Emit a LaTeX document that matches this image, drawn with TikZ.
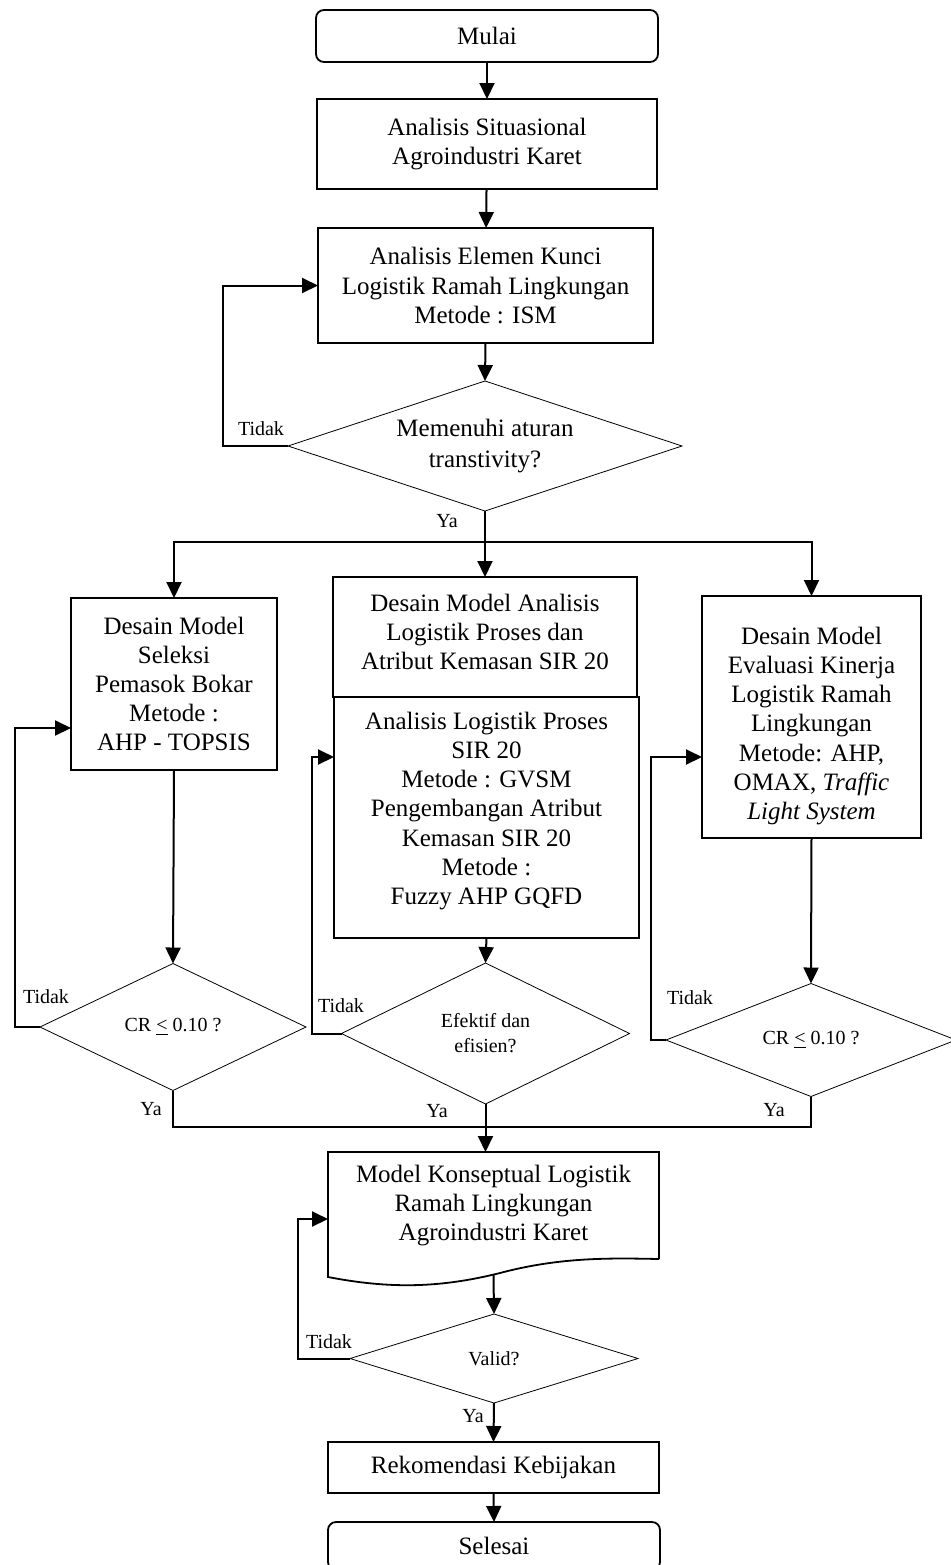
\documentclass[tikz,border=0pt]{standalone}
\usepackage{fontspec}
\setmainfont{Liberation Serif}
\usetikzlibrary{shapes.geometric,arrows.meta,calc}

\begin{document}
\begin{tikzpicture}[x=0.5pt,y=-0.5pt,
  box/.style={draw,line width=0.9pt,rectangle,align=center,inner sep=2pt,outer sep=0pt,
    font=\fontsize{12.5}{14.6}\selectfont},
  boxtext/.style={align=center,inner sep=0pt,font=\fontsize{12.5}{14.6}\selectfont},
  term/.style={box,rounded corners=4pt},
  dec/.style={draw,line width=0.4pt,diamond,align=center,inner sep=0pt,outer sep=0pt,
    font=\fontsize{10}{12.5}\selectfont},
  lbl/.style={inner sep=1pt,font=\fontsize{10}{12}\selectfont},
  conn/.style={line width=1pt,-{Triangle[length=8pt,width=7.5pt]}},
  joinline/.style={line width=1.3pt}
]
\useasboundingbox (0,0) rectangle (951,1565);

% main column
\node[term,minimum width=171pt,minimum height=26pt] (mulai) at (487,36) {Mulai};
\node[box,minimum width=170pt,minimum height=45pt] (sit) at (487,144)
  {Analisis Situasional\\Agroindustri Karet};
\node[box,minimum width=167.5pt,minimum height=57.5pt] (ism) at (485.5,285.5)
  {Analisis Elemen Kunci\\Logistik Ramah Lingkungan\\Metode : ISM};
\node[dec,shape aspect=3,minimum width=197pt,minimum height=65pt,
  font=\fontsize{12.5}{15.5}\selectfont] (trans) at (485,446)
  {Memenuhi aturan\\transtivity?};

% three design branches
\node[box,minimum width=103pt,minimum height=86pt] (sel) at (174,684)
  {Desain Model\\Seleksi\\Pemasok Bokar\\Metode :\\AHP - TOPSIS};
\node[box,minimum width=152pt,minimum height=60pt] (anl) at (485,637) {};
\node[boxtext] (anltext) at (485,632)
  {Desain Model Analisis\\Logistik Proses dan\\Atribut Kemasan SIR 20};
\node[box,minimum width=152.5pt,minimum height=120.5pt] (gvsm) at (486.5,817.5) {};
\node[boxtext] (gvsmtext) at (486.5,811)
  {Analisis Logistik Proses\\SIR 20\\Metode : GVSM\\Pengembangan Atribut\\Kemasan SIR 20\\Metode :\\Fuzzy AHP GQFD};
\node[box,minimum width=109.5pt,minimum height=121pt] (eval) at (811.5,717) {};
\node[boxtext] (evaltext) at (811.5,726)
  {Desain Model\\Evaluasi Kinerja\\Logistik Ramah\\Lingkungan\\Metode: AHP,\\OMAX, \textit{Traffic}\\\textit{Light System}};

\node[dec,shape aspect=2.1,minimum width=133pt,minimum height=63.5pt] (crA) at (173,1027)
  {CR \underline{<} 0.10 ?};
\node[dec,shape aspect=2,minimum width=144pt,minimum height=70.5pt] (eff) at (485.5,1033.5)
  {Efektif dan\\efisien?};
\node[dec,shape aspect=2.5,minimum width=145pt,minimum height=56.5pt] (crB) at (811,1040)
  {CR \underline{<} 0.10 ?};

% conceptual model, validation and closing
\node[draw=none,align=center,inner sep=2pt,outer sep=0pt,minimum width=165.5pt,minimum height=53.5pt,
  font=\fontsize{12.5}{14.4}\selectfont] (model) at (493.5,1205.5)
  {Model Konseptual Logistik\\Ramah Lingkungan\\Agroindustri Karet};
\draw[line width=0.9pt] (model.south east) -- (model.north east) -- (model.north west)
  -- (328,1277) .. controls (390,1289) and (440,1288) .. (500,1273)
  .. controls (560,1257) and (610,1258) .. (model.south east);
\node[dec,shape aspect=3.2,minimum width=144pt,minimum height=44.5pt] (valid) at (494,1358.5)
  {Valid?};
\node[box,minimum width=165.5pt,minimum height=25.5pt] (rek) at (493.5,1467.5)
  {Rekomendasi Kebijakan};
\node[term,minimum width=166pt,minimum height=24pt] (end) at (494,1546) {Selesai};

% flow
\draw[conn] (mulai) -- (sit);
\draw[conn] (sit) -- (ism);
\draw[conn] (ism.south) -- (trans.north);
\draw[conn] (trans.west) -- ++(-65,0) |- (ism.west);
\node[lbl] (t1) at (261,429) {Tidak};

\coordinate (split) at (485,542);
\draw[conn] (trans.south) -- (anl.north);
\draw[conn] (split) -| (sel.north);
\draw[conn] (split) -| (eval.north);
\node[lbl] (y1) at (447,521) {Ya};

\draw[conn] (sel.south) -- (crA.north);
\draw[conn] (gvsm.south) -- (eff.north);
\draw[conn] (eval.south) -- (crB.north);

\draw[conn] (crA.west) -- ++(-25,0) |- ([yshift=-22pt]sel.west);
\draw[conn] (eff.west) -- ++(-29.5,0) |- ([yshift=30.25pt]gvsm.west);
\draw[conn] (crB.west) -- ++(-15,0) |- ([yshift=-20pt]eval.west);
\node[lbl] (t2) at (46,997) {Tidak};
\node[lbl] (t3) at (341,1006) {Tidak};
\node[lbl] (t4) at (690,998) {Tidak};

\coordinate (merge) at (485.5,1127);
\draw[joinline] (crA.south) |- (merge);
\draw[joinline] (crB.south) |- (merge);
\draw[conn] (eff.south) -- (eff.south |- model.north);
\node[lbl] (y2) at (151,1109) {Ya};
\node[lbl] (y3) at (437,1111) {Ya};
\node[lbl] (y4) at (774,1110) {Ya};

\draw[conn] ([yshift=-7.5pt]model.south) -- (valid.north);
\draw[conn] (valid.west) -- ++(-52,0) |- ([yshift=-6.75pt]model.west);
\node[lbl] (t5) at (329,1342) {Tidak};
\draw[conn] (valid.south) -- (rek.north);
\node[lbl] (y5) at (473,1416) {Ya};
\draw[conn] (rek.south) -- (end.north);
\end{tikzpicture}
\end{document}
